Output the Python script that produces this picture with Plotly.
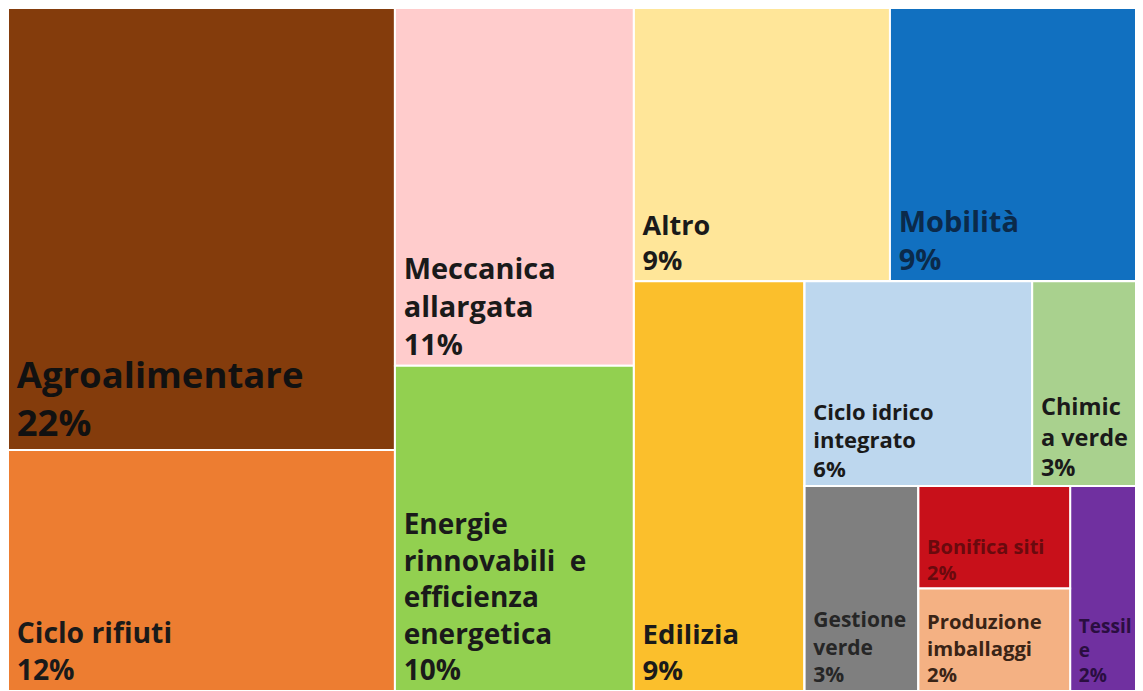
import plotly.graph_objects as go

# ---- data (leaves) ----
categories = ["Agroalimentare", "Ciclo rifiuti", "Meccanica allargata",
              "Energie rinnovabili e efficienza energetica", "Altro", "Mobilità",
              "Edilizia", "Ciclo idrico integrato", "Chimica verde", "Gestione verde",
              "Bonifica siti", "Produzione imballaggi", "Tessile"]
shares = [22, 12, 11, 10, 9, 9, 9, 6, 3, 3, 2, 2, 2]
label_lines = ["Agroalimentare", "Ciclo rifiuti", "Meccanica<br>allargata",
               "Energie<br>rinnovabili  e<br>efficienza<br>energetica", "Altro", "Mobilità",
               "Edilizia", "Ciclo idrico<br>integrato", "Chimic<br>a verde",
               "Gestione<br>verde", "Bonifica siti", "Produzione<br>imballaggi", "Tessil<br>e"]
leaf_parents = ["g1", "g1", "g2", "g2", "g4", "g4", "g5", "g7", "g7", "g8", "g9", "g9", "g8"]

# ---- invisible grouping nodes that reproduce the block arrangement ----
groups = ["g1", "g2", "g3", "g4", "g5", "g6", "g7", "g8", "g9"]
group_parents = ["", "", "", "g3", "g3", "g5", "g6", "g6", "g8"]

# drawing order of nodes (children keep this order inside each block)
order = ["g1", "Agroalimentare", "Ciclo rifiuti",
         "g2", "Meccanica allargata", "Energie rinnovabili e efficienza energetica",
         "g3", "g4", "Altro", "Mobilità",
         "g5", "Edilizia", "g6", "g7", "Ciclo idrico integrato", "Chimica verde",
         "g8", "Gestione verde", "g9", "Bonifica siti", "Produzione imballaggi", "Tessile"]

# ---- styles ----
colors = ["#843C0C", "#ED7D31", "#FFCCCC", "#92D050", "#FFE699", "#1170C0",
          "#FBBF2C", "#BDD7EE", "#A9D18E", "#7F7F7F", "#C8101A", "#F4B183", "#7030A0"]
text_colors = ["#111111", "#1a1a1a", "#1a1a1a", "#1a1a1a", "#1a1a1a", "#0b2a4a",
               "#1a1a1a", "#1a1a1a", "#1a1a1a", "#262626", "#6a0a0e", "#3a2416", "#2a0e40"]
font_sizes = [36.5, 28.3, 29, 28, 27, 29, 27.5, 22, 23.5, 21, 20, 20.3, 19]
PAD = "<span style='font-size:22px'>&nbsp;</span>"


def padded(lines):
    return "<br>".join(PAD + s for s in lines.split("<br>"))


leaf = {c: dict(parent=p, value=v, text=padded(f"{l}<br>{v}%"), color=col, tcol=tc, size=fs)
        for c, p, v, l, col, tc, fs in zip(categories, leaf_parents, shares, label_lines,
                                            colors, text_colors, font_sizes)}
grp = {g: dict(parent=p, value=0, text="", color="white", tcol="white", size=10)
       for g, p in zip(groups, group_parents)}

ids, parents, values, texts, mcolors, tcolors, tsizes, labels = [], [], [], [], [], [], [], []
for node in order:
    d = leaf.get(node) or grp[node]
    ids.append(node)
    labels.append(node if node in leaf else "")
    parents.append(d["parent"])
    values.append(d["value"])
    texts.append(d["text"])
    mcolors.append(d["color"])
    tcolors.append(d["tcol"])
    tsizes.append(d["size"])

fig = go.Figure(go.Treemap(
    ids=ids,
    labels=labels,
    parents=parents,
    values=values,
    branchvalues="remainder",
    text=texts,
    textinfo="text",
    textposition="bottom left",
    textfont=dict(family="Open Sans", size=tsizes, color=tcolors, weight="bold"),
    marker=dict(colors=mcolors, line=dict(color="white", width=2),
                pad=dict(t=0, l=0, r=0, b=0)),
    tiling=dict(packing="slice-dice", pad=0),
    pathbar=dict(visible=False),
    sort=False,
    hoverinfo="label+value",
))

fig.update_layout(
    width=1138, height=683,
    margin=dict(l=0, r=0, t=0, b=0),
    paper_bgcolor="white",
    plot_bgcolor="white",
)

fig.write_html("out.html")
